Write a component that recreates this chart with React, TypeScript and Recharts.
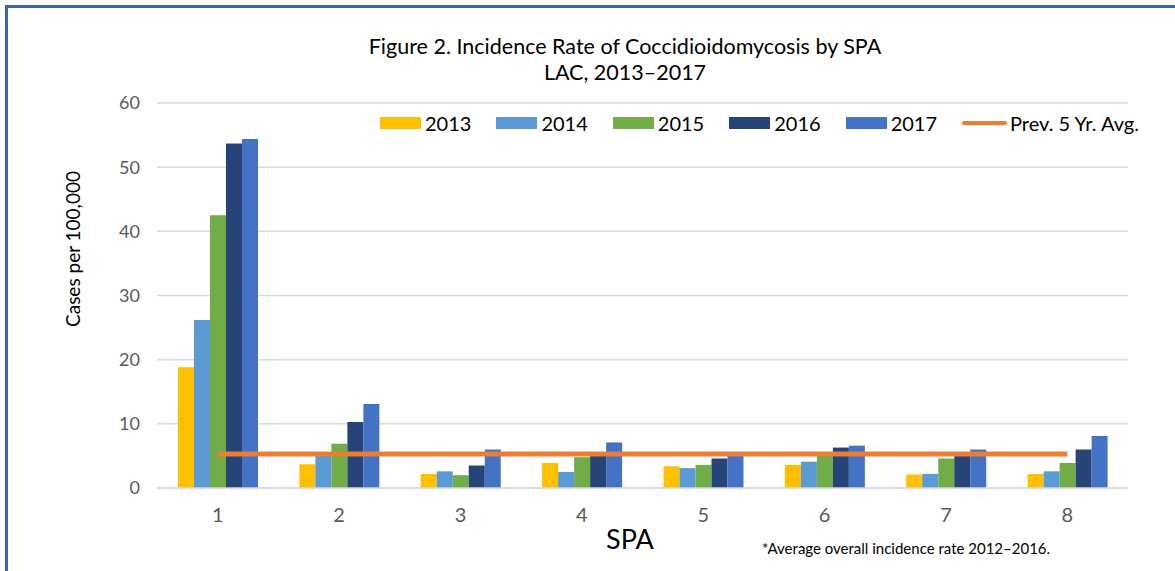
import { ComposedChart, Bar, Line, XAxis, YAxis, CartesianGrid } from 'recharts';

const spas = ['1', '2', '3', '4', '5', '6', '7', '8'];
const rate2013 = [18.8, 3.7, 2.2, 3.9, 3.4, 3.6, 2.1, 2.2];
const rate2014 = [26.2, 5.0, 2.6, 2.5, 3.1, 4.1, 2.2, 2.6];
const rate2015 = [42.5, 6.9, 2.0, 4.8, 3.6, 5.3, 4.6, 3.9];
const rate2016 = [53.7, 10.3, 3.5, 5.2, 4.6, 6.3, 5.1, 6.0];
const rate2017 = [54.4, 13.1, 6.0, 7.1, 5.3, 6.6, 6.0, 8.1];
const prevAvg = [5.3, 5.3, 5.3, 5.3, 5.3, 5.3, 5.3, 5.3];
const yTicks = [0, 10, 20, 30, 40, 50, 60];

const series = [
  { key: 'y2013', name: '2013', color: '#FFC000', values: rate2013 },
  { key: 'y2014', name: '2014', color: '#5B9BD5', values: rate2014 },
  { key: 'y2015', name: '2015', color: '#70AD47', values: rate2015 },
  { key: 'y2016', name: '2016', color: '#264478', values: rate2016 },
  { key: 'y2017', name: '2017', color: '#4472C4', values: rate2017 },
];

const data = spas.map((spa, i) => {
  const row: Record<string, string | number> = { spa, avg: prevAvg[i] };
  series.forEach((s) => {
    row[s.key] = s.values[i];
  });
  return row;
});

const font = 'Lato, "Open Sans", sans-serif';

// legend drawn as an overlay so it doesn't push the plot area down
const LegendBox = () => (
  <div style={{ position: 'absolute', left: 380, top: 110, height: 26, display: 'flex', alignItems: 'center', fontFamily: font, fontSize: 20, color: '#000' }}>
    {series.map((s) => (
      <div key={s.key} style={{ display: 'flex', alignItems: 'center', marginRight: 25 }}>
        <div style={{ width: 41, height: 12, background: s.color, marginRight: 4 }} />
        <span>{s.name}</span>
      </div>
    ))}
    <div style={{ display: 'flex', alignItems: 'center' }}>
      <div style={{ width: 45, height: 4, background: '#ED7D31', borderRadius: 2, marginRight: 3 }} />
      <span>Prev. 5 Yr. Avg.</span>
    </div>
  </div>
);

const App = () => {
  return (
    <div style={{ position: 'absolute', left: 0, top: 0, width: 1175, height: 571, background: '#fff', overflow: 'hidden' }}>
      <div style={{ position: 'absolute', left: 5, top: 5, width: 1175, height: 571, borderLeft: '3px solid #3F64A8', borderTop: '3px solid #3F64A8' }} />
      <div style={{ position: 'absolute', left: 0, width: 1250, top: 33, textAlign: 'center', fontFamily: font, fontSize: 21.5, lineHeight: '26px', color: '#000' }}>
        Figure 2. Incidence Rate of Coccidioidomycosis by SPA
        <br />
        LAC, 2013–2017
      </div>
      <ComposedChart
        width={1175}
        height={571}
        data={data}
        margin={{ top: 103, right: 47, left: 0, bottom: 43 }}
        barGap={0}
        barSize={16}
      >
        <CartesianGrid vertical={false} stroke="#D9D9D9" strokeWidth={1.5} />
        <XAxis
          dataKey="spa"
          height={40}
          tickLine={false}
          axisLine={{ stroke: '#D9D9D9', strokeWidth: 1.5 }}
          tick={{ fill: '#595959', fontSize: 20, fontFamily: font }}
          tickMargin={14}
        />
        <YAxis
          width={157}
          domain={[0, 60]}
          ticks={yTicks}
          tickLine={false}
          axisLine={false}
          tickMargin={11}
          tick={{ fill: '#595959', fontSize: 18, fontFamily: font }}
        />
        {series.map((s) => (
          <Bar key={s.key} dataKey={s.key} name={s.name} fill={s.color} isAnimationActive={false} />
        ))}
        <Line
          dataKey="avg"
          name="Prev. 5 Yr. Avg."
          stroke="#ED7D31"
          strokeWidth={5}
          dot={false}
          activeDot={false}
          isAnimationActive={false}
        />
      </ComposedChart>
      <LegendBox />
      <div style={{ position: 'absolute', left: 72, top: 249, transform: 'translate(-50%, -50%) rotate(-90deg)', whiteSpace: 'nowrap', fontFamily: font, fontSize: 19, color: '#000' }}>
        Cases per 100,000
      </div>
      <div style={{ position: 'absolute', left: 606, top: 522, fontFamily: font, fontSize: 27, color: '#000' }}>SPA</div>
      <div style={{ position: 'absolute', left: 762, top: 539, fontFamily: font, fontSize: 15, color: '#000' }}>
        *Average overall incidence rate 2012–2016.
      </div>
    </div>
  );
};

export default App;
